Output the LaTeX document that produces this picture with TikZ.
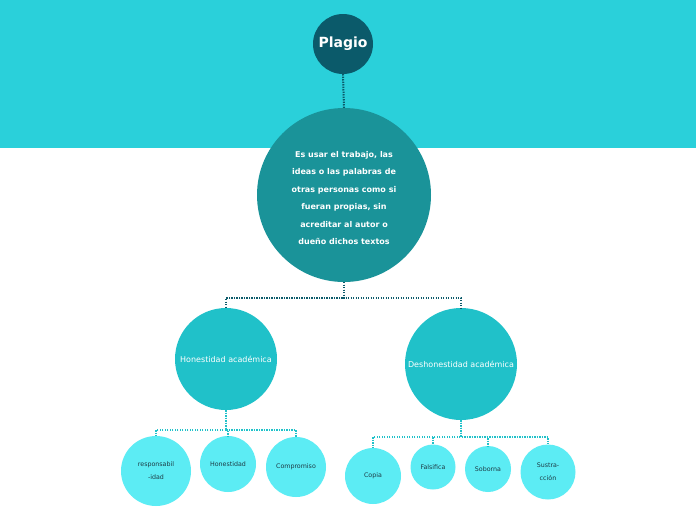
\documentclass[tikz,border=0pt]{standalone}
\usepackage{fontspec}
\setmainfont{DejaVu Sans}
\definecolor{banner}{HTML}{2AD0DA}
\definecolor{dark}{HTML}{0B5A6A}
\definecolor{maincol}{HTML}{1A9399}
\definecolor{midcol}{HTML}{20C1C9}
\definecolor{leafcol}{HTML}{5CECF4}
\definecolor{leaftxt}{HTML}{1D3B45}
\begin{document}
\begin{tikzpicture}[x=1pt,y=-1pt,
  circ/.style={circle,inner sep=0pt,align=center},
  top/.style={circ,fill=dark,text=white,font=\bfseries\fontsize{14}{16}\selectfont,minimum size=60pt},
  mainc/.style={circ,fill=maincol,text=white,font=\bfseries\fontsize{8}{17.5}\selectfont,minimum size=174pt},
  midc/.style={circ,fill=midcol,text=white,font=\fontsize{8}{10}\selectfont},
  leaf/.style={circ,fill=leafcol,text=leaftxt,font=\fontsize{6.3}{13}\selectfont},
  dconn/.style={draw=dark,line width=2pt,dash pattern=on 1.3pt off 1.2pt},
  lconn/.style={draw=midcol,line width=2pt,dash pattern=on 1.3pt off 1.2pt}]
\useasboundingbox (0,0) rectangle (696,520);
\fill[white] (0,0) rectangle (696,520);
\fill[banner] (0,0) rectangle (696,148);
\node[top] (p) at (343,44) {Plagio};
\node[mainc] (m) at (344,195) {};
\node[mainc,fill=none] (mt) at (344,198) {Es usar el trabajo, las\\ideas o las palabras de\\otras personas como si\\fueran propias, sin\\acreditar al autor o\\dueño dichos textos};
\node[midc,minimum size=102pt] (h) at (226,359) {Honestidad académica};
\node[midc,minimum size=112pt] (d) at (461,364) {Deshonestidad académica};
\node[leaf,minimum size=70pt] (l1) at (156,471) {responsabil\\-idad};
\node[leaf,minimum size=56pt] (l2) at (228,464) {Honestidad};
\node[leaf,minimum size=60pt] (l3) at (296,467) {Compromiso};
\node[leaf,minimum size=56pt] (r1) at (373,476) {Copia};
\node[leaf,minimum size=45pt] (r2) at (433,467) {Falsifica};
\node[leaf,minimum size=46pt] (r3) at (488,469) {Soborna};
\node[leaf,minimum size=55pt] (r4) at (548,472) {Sustra-\\cción};
\coordinate (ms) at (344,282);
\draw[dconn] (p.south) -- (m.north);
\draw[dconn] (ms) -- (344,298) -| (h.north);
\draw[dconn] (ms) -- (344,298) -| (d.north);
\foreach \c in {l1,l2,l3}{\draw[lconn] (h.south) -- (226,430) -| (\c.north);}
\foreach \c in {r1,r2,r3,r4}{\draw[lconn] (d.south) -- (461,437) -| (\c.north);}
\end{tikzpicture}
\end{document}
